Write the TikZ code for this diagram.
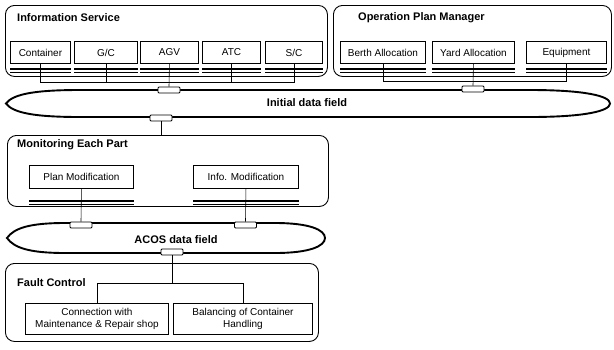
\documentclass[tikz,border=0pt]{standalone}
\usepackage{fontspec}
\setmainfont{Liberation Sans}
\begin{document}
\begin{tikzpicture}[x=1pt,y=-1pt,
  grp/.style={draw, line width=0.9pt, rounded corners=9pt, anchor=north west, inner sep=0pt},
  unit/.style={draw, line width=0.9pt, anchor=north west, inner sep=0pt, align=center,
    font=\fontsize{10}{11.5}\selectfont},
  ttl/.style={anchor=west, inner sep=0pt, font=\bfseries\fontsize{11}{13}\selectfont},
  port/.style={draw, fill=white, line width=0.8pt, rounded corners=1pt,
    minimum width=22pt, minimum height=6pt, inner sep=0pt},
  bus/.style={line width=0.6pt},
  shade/.style={line width=1.3pt},
  field/.style={line width=1.9pt},
  flabel/.style={inner sep=0pt, font=\bfseries\fontsize{11}{13}\selectfont}]

\useasboundingbox (0,0) rectangle (614,349);

% ---------- Information Service ----------
\node[grp, minimum width=322pt, minimum height=71pt] (infosvc) at (5,5) {};
\node[ttl] (infottl) at (17,18) {Information Service};
\node[unit, minimum width=60pt, minimum height=22pt] (cont) at (10,41) {Container};
\node[unit, minimum width=63pt, minimum height=22pt] (gc)   at (74,41) {G/C};
\node[unit, minimum width=58pt, minimum height=22pt] (agv)  at (140,41) {AGV};
\node[unit, minimum width=58pt, minimum height=22pt] (atc)  at (202,41) {ATC};
\node[unit, minimum width=57pt, minimum height=22pt] (sc)   at (265,41) {S/C};

% ---------- Operation Plan Manager ----------
\node[grp, minimum width=278pt, minimum height=71pt] (opm) at (333,5) {};
\node[ttl] (opmttl) at (358,18) {Operation Plan Manager};
\node[unit, minimum width=85pt, minimum height=22pt] (berth) at (340,41) {Berth Allocation};
\node[unit, minimum width=82pt, minimum height=22pt] (yard)  at (432,41) {Yard Allocation};
\node[unit, minimum width=80pt, minimum height=22pt] (equip) at (526,41) {Equipment};

\foreach \u in {cont,gc,agv,atc,sc,berth,yard,equip}{
  \draw[shade] ([yshift=-5pt]\u.south west) -- ([yshift=-5pt]\u.south east);
  \draw[bus]   ([yshift=-8pt]\u.south west) -- ([yshift=-8pt]\u.south east);
}

% ---------- Initial data field ----------
\draw[field] (6,103.5) .. controls (13,94) and (35,90) .. (80,90) -- (530,90)
  .. controls (585,90) and (610,96) .. (610,103.5)
  .. controls (610,111) and (585,117) .. (530,117) -- (80,117)
  .. controls (35,117) and (13,113) .. cycle;
\node[flabel] (initf) at (307,103) {Initial data field};

\node[port] (pis)  at (169,90) {};
\node[port] (popm) at (473,89) {};
\node[port] (pmon) at (161,118) {};

\coordinate (isbus) at (0,82);
\coordinate (opbus) at (0,81);
\draw[bus] (cont.south) -- (cont.south |- isbus) -- (sc.south |- isbus) -- (sc.south);
\foreach \u in {gc,atc} \draw[bus] (\u.south) -- (\u.south |- isbus);
\draw[bus] (agv.south) -- (pis.north);
\draw[bus] (berth.south) -- (berth.south |- opbus) -- (equip.south |- opbus) -- (equip.south);
\draw[bus] (yard.south) -- (popm.north);

% ---------- Monitoring Each Part ----------
\node[grp, minimum width=321pt, minimum height=71pt] (mon) at (7,135) {};
\node[ttl] (monttl) at (17,145) {Monitoring Each Part};
\node[unit, minimum width=104pt, minimum height=23pt] (pm) at (29,165) {Plan Modification};
\node[unit, minimum width=105pt, minimum height=23pt] (im) at (193,165) {Info. Modification};
\foreach \u in {pm,im}{
  \draw[shade] ([yshift=-12pt]\u.south west) -- ([yshift=-12pt]\u.south east);
  \draw[bus]   ([yshift=-15pt]\u.south west) -- ([yshift=-15pt]\u.south east);
}
\draw[bus] (pmon.south) -- (pmon.south |- mon.north);

% ---------- ACOS data field ----------
\draw[field] (7,238) .. controls (14,228) and (30,223) .. (65,223) -- (275,223)
  .. controls (310,223) and (325,230) .. (325,238)
  .. controls (325,246) and (310,253) .. (275,253) -- (65,253)
  .. controls (30,253) and (14,248) .. cycle;
\node[flabel] (acosf) at (176,240) {ACOS data field};

\node[port] (ppm) at (81,225) {};
\node[port] (pim) at (245.5,225) {};
\node[port] (pfc) at (172,252) {};
\draw[bus] (pm.south) -- (ppm.north);
\draw[bus] (im.south) -- (pim.north);

% ---------- Fault Control ----------
\node[grp, minimum width=313pt, minimum height=78pt] (fc) at (5,263) {};
\node[ttl] (fcttl) at (17,283) {Fault Control};
\node[unit, minimum width=143pt, minimum height=31pt] (conn) at (25,303)
  {Connection with\\Maintenance \& Repair shop};
\node[unit, minimum width=139pt, minimum height=31pt] (bal) at (173,303)
  {Balancing of Container\\Handling};
\coordinate (fcbus) at (0,283);
\draw[bus] (pfc.south) -- (pfc.south |- fcbus);
\draw[bus] (conn.north) -- (conn.north |- fcbus) -- (bal.north |- fcbus) -- (bal.north);
\end{tikzpicture}
\end{document}
